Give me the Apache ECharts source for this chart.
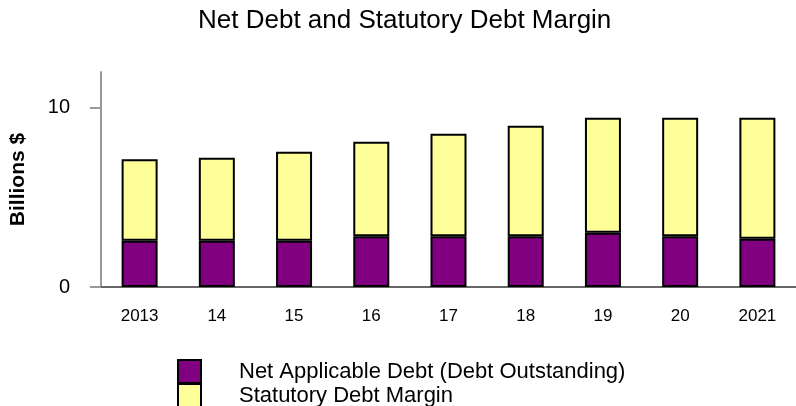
<!DOCTYPE html>
<html>
<head>
<meta charset="utf-8">
<script src="https://cdn.jsdelivr.net/npm/echarts@6/dist/echarts.min.js"></script>
<style>
  html, body { margin: 0; padding: 0; background: #fff; }
  #chart { width: 796px; height: 406px; }
</style>
</head>
<body>
<div id="chart"></div>
<script>
// fiscal years (short labels as printed on the axis)
const years = ['2013', '14', '15', '16', '17', '18', '19', '20', '2021'];
// billions of dollars
const netDebt = [2.58, 2.58, 2.58, 2.83, 2.83, 2.83, 3.03, 2.83, 2.70];
const debtMargin = [4.55, 4.63, 4.97, 5.28, 5.73, 6.17, 6.41, 6.61, 6.74];
const seriesNames = ['Net Applicable Debt (Debt Outstanding)', 'Statutory Debt Margin'];

const font = 'Liberation Sans, Arial, sans-serif';

let myChart = echarts.init(document.getElementById('chart'));

// one legend box per entry so they stack without wrapping
function legendRow(name, top) {
  return {
    left: 177,
    top: top,
    padding: 0,
    itemWidth: 23,
    itemHeight: 23,
    icon: 'rect',
    itemStyle: { borderColor: '#000', borderWidth: 2 },
    textStyle: { fontFamily: font, fontSize: 22, color: '#000', padding: [0, 0, 0, 33] },
    data: [name]
  };
}

let option = {
  animation: false,
  title: {
    text: 'Net Debt and Statutory Debt Margin',
    left: 198,
    top: 8,
    padding: 0,
    textStyle: { fontFamily: font, fontSize: 26, fontWeight: 'normal', color: '#000' }
  },
  legend: [legendRow(seriesNames[0], 359), legendRow(seriesNames[1], 383)],
  grid: { left: 100, top: 72, width: 706, height: 215 },
  xAxis: {
    type: 'category',
    data: years,
    axisLine: { lineStyle: { color: '#666', width: 2 } },
    axisTick: { alignWithLabel: true, length: 11, lineStyle: { color: '#999', width: 2 } },
    axisLabel: { fontFamily: font, fontSize: 17, color: '#000', margin: 21 }
  },
  yAxis: {
    type: 'value',
    min: 0,
    max: 12,
    interval: 10,
    name: 'Billions $',
    nameLocation: 'middle',
    nameGap: 72,
    nameTextStyle: { fontFamily: font, fontSize: 21, fontWeight: 'bold', color: '#000' },
    splitLine: { show: false },
    axisLine: { show: true, lineStyle: { color: '#999', width: 2 } },
    axisTick: { show: true, length: 11, lineStyle: { color: '#999', width: 2 } },
    axisLabel: { fontFamily: font, fontSize: 20, color: '#000', margin: 31, showMaxLabel: false }
  },
  series: [
    {
      name: seriesNames[0],
      type: 'bar',
      stack: 'total',
      barWidth: 36,
      data: netDebt,
      itemStyle: { color: '#800080', borderColor: '#000', borderWidth: 2 }
    },
    {
      name: seriesNames[1],
      type: 'bar',
      stack: 'total',
      barWidth: 36,
      data: debtMargin,
      itemStyle: { color: '#FFFF99', borderColor: '#000', borderWidth: 2 }
    }
  ]
};

myChart.setOption(option);
</script>
</body>
</html>
